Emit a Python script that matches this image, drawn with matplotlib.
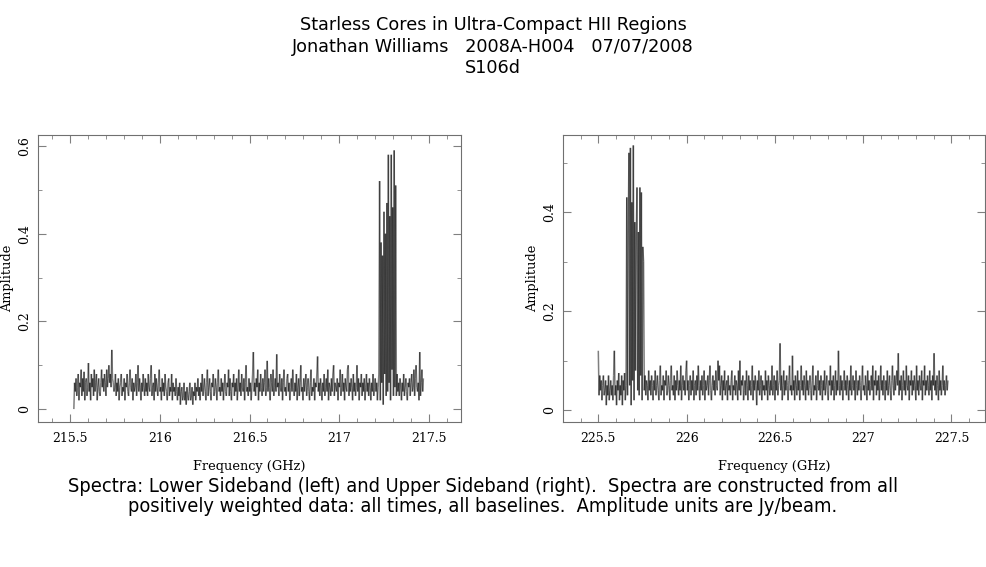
import matplotlib
matplotlib.use("Agg")
from matplotlib import pyplot as plt
from matplotlib.collections import LineCollection
from matplotlib.ticker import MultipleLocator
import numpy as np

# lower sideband (left panel), 480 channels
lsb_start, lsb_end = 215.52, 217.47
lsb_amp = [
    0.00, 0.06, 0.04, 0.07, 0.03, 0.05, 0.08, 0.02, 0.06, 0.05, 0.09, 0.03, 0.07, 0.04, 0.085, 0.02, 0.06, 0.07, 0.03, 0.05,
    0.105, 0.04, 0.06, 0.02, 0.08, 0.05, 0.07, 0.03, 0.09, 0.04, 0.06, 0.08, 0.02, 0.05, 0.07, 0.04, 0.03, 0.06, 0.09, 0.05,
    0.07, 0.04, 0.08, 0.06, 0.03, 0.09, 0.05, 0.07, 0.10, 0.06, 0.08, 0.05, 0.135, 0.07, 0.06, 0.04, 0.05, 0.08, 0.03, 0.06,
    0.04, 0.07, 0.02, 0.05, 0.06, 0.08, 0.03, 0.05, 0.04, 0.07, 0.02, 0.06, 0.05, 0.08, 0.04, 0.03, 0.06, 0.09, 0.05, 0.04,
    0.07, 0.02, 0.06, 0.04, 0.05, 0.08, 0.03, 0.06, 0.10, 0.04, 0.07, 0.05, 0.02, 0.06, 0.04, 0.08, 0.05, 0.03, 0.07, 0.04,
    0.06, 0.03, 0.08, 0.05, 0.04, 0.07, 0.10, 0.03, 0.05, 0.06, 0.02, 0.08, 0.04, 0.07, 0.05, 0.03, 0.06, 0.09, 0.04, 0.05,
    0.02, 0.07, 0.04, 0.06, 0.03, 0.08, 0.05, 0.04, 0.02, 0.06, 0.07, 0.03, 0.05, 0.04, 0.08, 0.02, 0.06, 0.04, 0.05, 0.03,
    0.07, 0.04, 0.02, 0.05, 0.03, 0.06, 0.01, 0.04, 0.05, 0.02, 0.03, 0.06, 0.02, 0.04, 0.01, 0.05, 0.03, 0.02, 0.04, 0.06,
    0.02, 0.03, 0.05, 0.01, 0.04, 0.03, 0.06, 0.02, 0.05, 0.04, 0.07, 0.03, 0.05, 0.02, 0.06, 0.04, 0.08, 0.03, 0.05, 0.07,
    0.04, 0.02, 0.06, 0.09, 0.03, 0.05, 0.07, 0.04, 0.02, 0.06, 0.05, 0.08, 0.03, 0.04, 0.07, 0.05, 0.02, 0.06, 0.09, 0.04,
    0.05, 0.03, 0.07, 0.04, 0.06, 0.02, 0.05, 0.08, 0.04, 0.03, 0.06, 0.05, 0.09, 0.03, 0.07, 0.04, 0.02, 0.06, 0.05, 0.08,
    0.03, 0.06, 0.04, 0.07, 0.02, 0.05, 0.09, 0.04, 0.06, 0.03, 0.08, 0.05, 0.04, 0.07, 0.02, 0.06, 0.10, 0.04, 0.05, 0.03,
    0.07, 0.04, 0.06, 0.02, 0.05, 0.08, 0.13, 0.04, 0.06, 0.03, 0.07, 0.05, 0.09, 0.02, 0.06, 0.04, 0.08, 0.05, 0.03, 0.07,
    0.04, 0.06, 0.09, 0.03, 0.05, 0.11, 0.04, 0.07, 0.05, 0.02, 0.08, 0.06, 0.04, 0.09, 0.03, 0.05, 0.07, 0.04, 0.125, 0.05,
    0.06, 0.03, 0.08, 0.05, 0.04, 0.07, 0.02, 0.06, 0.09, 0.04, 0.05, 0.03, 0.07, 0.08, 0.04, 0.06, 0.02, 0.05, 0.07, 0.04,
    0.09, 0.05, 0.03, 0.06, 0.04, 0.08, 0.02, 0.05, 0.07, 0.03, 0.06, 0.10, 0.04, 0.05, 0.02, 0.07, 0.04, 0.06, 0.08, 0.03,
    0.05, 0.07, 0.04, 0.02, 0.06, 0.09, 0.03, 0.05, 0.04, 0.07, 0.02, 0.06, 0.05, 0.08, 0.12, 0.04, 0.06, 0.03, 0.07, 0.05,
    0.02, 0.06, 0.04, 0.08, 0.03, 0.05, 0.07, 0.04, 0.09, 0.02, 0.06, 0.05, 0.03, 0.07, 0.04, 0.08, 0.10, 0.03, 0.06, 0.05,
    0.04, 0.07, 0.02, 0.06, 0.05, 0.09, 0.03, 0.05, 0.08, 0.04, 0.06, 0.02, 0.07, 0.05, 0.04, 0.09, 0.10, 0.03, 0.06, 0.04,
    0.07, 0.05, 0.02, 0.08, 0.04, 0.06, 0.03, 0.05, 0.10, 0.04, 0.07, 0.02, 0.06, 0.05, 0.08, 0.03, 0.06, 0.04, 0.07, 0.02,
    0.05, 0.08, 0.04, 0.06, 0.03, 0.07, 0.05, 0.02, 0.06, 0.04, 0.08, 0.03, 0.05, 0.07, 0.04, 0.06, 0.02, 0.05, 0.08, 0.52,
    0.02, 0.38, 0.06, 0.35, 0.01, 0.45, 0.08, 0.40, 0.03, 0.47, 0.04, 0.58, 0.06, 0.44, 0.02, 0.58, 0.09, 0.46, 0.03, 0.59,
    0.05, 0.51, 0.03, 0.08, 0.04, 0.06, 0.03, 0.07, 0.05, 0.02, 0.06, 0.04, 0.08, 0.03, 0.05, 0.07, 0.04, 0.02, 0.06, 0.05,
    0.07, 0.03, 0.06, 0.08, 0.04, 0.05, 0.09, 0.03, 0.07, 0.10, 0.05, 0.04, 0.06, 0.02, 0.13, 0.03, 0.06, 0.09, 0.04, 0.07,
]

# upper sideband (right panel), 480 channels
usb_start, usb_end = 225.50, 227.48
usb_amp = [
    0.12, 0.03, 0.07, 0.04, 0.06, 0.02, 0.05, 0.07, 0.03, 0.04, 0.06, 0.01, 0.05, 0.03, 0.07, 0.02, 0.04, 0.06, 0.03, 0.05,
    0.02, 0.07, 0.12, 0.03, 0.05, 0.01, 0.06, 0.04, 0.075, 0.02, 0.05, 0.03, 0.07, 0.01, 0.06, 0.04, 0.075, 0.02, 0.05, 0.43,
    0.03, 0.36, 0.52, 0.05, 0.53, 0.01, 0.42, 0.06, 0.535, 0.02, 0.38, 0.08, 0.35, 0.45, 0.04, 0.36, 0.03, 0.45, 0.07, 0.44,
    0.02, 0.33, 0.30, 0.04, 0.07, 0.03, 0.06, 0.05, 0.02, 0.08, 0.04, 0.06, 0.03, 0.07, 0.05, 0.02, 0.06, 0.04, 0.08, 0.03,
    0.05, 0.07, 0.04, 0.02, 0.06, 0.09, 0.03, 0.05, 0.04, 0.07, 0.02, 0.06, 0.05, 0.08, 0.03, 0.04, 0.07, 0.05, 0.02, 0.06,
    0.09, 0.04, 0.05, 0.03, 0.07, 0.02, 0.06, 0.04, 0.08, 0.05, 0.03, 0.06, 0.04, 0.09, 0.02, 0.05, 0.07, 0.04, 0.06, 0.03,
    0.08, 0.10, 0.04, 0.06, 0.02, 0.05, 0.07, 0.03, 0.06, 0.04, 0.08, 0.02, 0.05, 0.06, 0.03, 0.07, 0.04, 0.09, 0.05, 0.02,
    0.06, 0.04, 0.07, 0.03, 0.05, 0.08, 0.02, 0.06, 0.04, 0.05, 0.07, 0.03, 0.06, 0.09, 0.04, 0.02, 0.05, 0.07, 0.04, 0.06,
    0.03, 0.08, 0.05, 0.04, 0.10, 0.06, 0.09, 0.03, 0.05, 0.07, 0.02, 0.06, 0.04, 0.08, 0.03, 0.05, 0.06, 0.02, 0.07, 0.04,
    0.05, 0.03, 0.06, 0.08, 0.02, 0.05, 0.04, 0.07, 0.03, 0.06, 0.05, 0.02, 0.08, 0.04, 0.10, 0.03, 0.06, 0.05, 0.07, 0.02,
    0.04, 0.06, 0.03, 0.08, 0.05, 0.02, 0.07, 0.04, 0.06, 0.03, 0.05, 0.09, 0.02, 0.06, 0.04, 0.07, 0.05, 0.01, 0.06, 0.04,
    0.08, 0.03, 0.05, 0.07, 0.02, 0.06, 0.04, 0.05, 0.03, 0.08, 0.04, 0.06, 0.02, 0.07, 0.05, 0.03, 0.06, 0.04, 0.09, 0.03,
    0.05, 0.07, 0.02, 0.06, 0.04, 0.08, 0.03, 0.05, 0.06, 0.135, 0.04, 0.07, 0.02, 0.05, 0.08, 0.03, 0.06, 0.04, 0.07, 0.05,
    0.02, 0.06, 0.09, 0.04, 0.05, 0.03, 0.11, 0.04, 0.06, 0.02, 0.07, 0.05, 0.03, 0.08, 0.04, 0.06, 0.02, 0.05, 0.09, 0.04,
    0.06, 0.03, 0.07, 0.05, 0.02, 0.08, 0.04, 0.06, 0.03, 0.05, 0.07, 0.04, 0.02, 0.06, 0.09, 0.03, 0.05, 0.04, 0.07, 0.02,
    0.05, 0.08, 0.04, 0.06, 0.03, 0.07, 0.05, 0.02, 0.06, 0.04, 0.08, 0.03, 0.05, 0.07, 0.04, 0.02, 0.06, 0.05, 0.09, 0.03,
    0.06, 0.04, 0.07, 0.02, 0.05, 0.08, 0.03, 0.06, 0.04, 0.12, 0.05, 0.03, 0.07, 0.04, 0.06, 0.02, 0.05, 0.08, 0.04, 0.06,
    0.03, 0.07, 0.05, 0.02, 0.06, 0.04, 0.09, 0.03, 0.05, 0.07, 0.04, 0.06, 0.02, 0.08, 0.05, 0.03, 0.06, 0.04, 0.07, 0.05,
    0.02, 0.06, 0.09, 0.04, 0.05, 0.03, 0.07, 0.05, 0.02, 0.08, 0.04, 0.06, 0.03, 0.05, 0.07, 0.04, 0.09, 0.02, 0.06, 0.05,
    0.08, 0.03, 0.06, 0.04, 0.07, 0.02, 0.05, 0.09, 0.04, 0.06, 0.03, 0.07, 0.05, 0.02, 0.06, 0.04, 0.08, 0.03, 0.05, 0.07,
    0.04, 0.02, 0.06, 0.09, 0.05, 0.03, 0.07, 0.04, 0.06, 0.08, 0.05, 0.115, 0.03, 0.06, 0.04, 0.07, 0.02, 0.05, 0.08, 0.04,
    0.06, 0.03, 0.09, 0.05, 0.04, 0.07, 0.02, 0.06, 0.05, 0.08, 0.03, 0.06, 0.04, 0.07, 0.05, 0.02, 0.09, 0.04, 0.06, 0.03,
    0.07, 0.05, 0.04, 0.08, 0.02, 0.06, 0.05, 0.09, 0.03, 0.06, 0.04, 0.07, 0.05, 0.03, 0.08, 0.04, 0.06, 0.02, 0.07, 0.05,
    0.115, 0.04, 0.06, 0.03, 0.07, 0.05, 0.02, 0.08, 0.04, 0.06, 0.03, 0.05, 0.09, 0.04, 0.06, 0.03, 0.05, 0.07, 0.04, 0.06,
]

title_lines = ["Starless Cores in Ultra-Compact HII Regions",
               "Jonathan Williams   2008A-H004   07/07/2008",
               "S106d"]
caption = ("Spectra: Lower Sideband (left) and Upper Sideband (right).  Spectra are constructed from all\n"
           "positively weighted data: all times, all baselines.  Amplitude units are Jy/beam.")

fig = plt.figure(figsize=(9.87, 5.67), dpi=100)

def panel(rect, f0, f1, amp, xlim, ylim, xticks, yticks):
    ax = fig.add_axes(rect)
    freq = np.linspace(f0, f1, len(amp))
    pts = np.column_stack([freq, amp])
    # each segment drawn on its own so overlaps darken, like the original plot
    segs = np.stack([pts[:-1], pts[1:]], axis=1)
    ax.add_collection(LineCollection(segs, colors="black", alpha=0.5, linewidths=1.1))
    ax.set_xlim(*xlim)
    ax.set_ylim(*ylim)
    ax.set_xticks(xticks)
    ax.set_xticklabels([("%g" % t) for t in xticks])
    ax.set_yticks(yticks)
    ax.set_yticklabels([("%g" % t) for t in yticks], rotation=90, va="center")
    ax.xaxis.set_minor_locator(MultipleLocator(0.1))
    ax.yaxis.set_minor_locator(MultipleLocator(0.1))
    ax.tick_params(which="both", direction="in", top=True, right=True, color="#808080",
                   labelsize=9, labelfontfamily="DejaVu Serif")
    ax.tick_params(axis="x", pad=7)
    ax.tick_params(axis="y", pad=5)
    ax.tick_params(which="major", length=6)
    ax.tick_params(which="minor", length=3)
    for s in ax.spines.values():
        s.set_color("#707070")
        s.set_linewidth(0.8)
    ax.set_xlabel("Frequency (GHz)", family="DejaVu Serif", fontsize=9.3)
    ax.xaxis.set_label_coords(0.5, -0.134)
    ax.set_ylabel("Amplitude", family="DejaVu Serif", fontsize=9.3)
    ax.yaxis.set_label_coords(-0.057, 0.5)
    return ax

panel([0.0385, 0.2557, 0.4286, 0.5062], lsb_start, lsb_end, lsb_amp,
      (215.32, 217.68), (-0.0295, 0.625), [215.5, 216, 216.5, 217, 217.5], [0, 0.2, 0.4, 0.6])
panel([0.5704, 0.2557, 0.4276, 0.5062], usb_start, usb_end, usb_amp,
      (225.30, 227.69), (-0.024, 0.556), [225.5, 226, 226.5, 227, 227.5], [0, 0.2, 0.4])

for i, line in enumerate(title_lines):
    fig.text(0.4995, 1 - (25 + 21.5 * i) / 567, line, ha="center", va="center",
             fontsize=12.7, family="DejaVu Sans")

fig.text(0.489, 1 - 496.5 / 567, caption, ha="center", va="center", fontsize=14.3,
         family="DejaVu Sans", fontstretch="condensed", linespacing=1.05)

fig.savefig("out.png", dpi=100)
